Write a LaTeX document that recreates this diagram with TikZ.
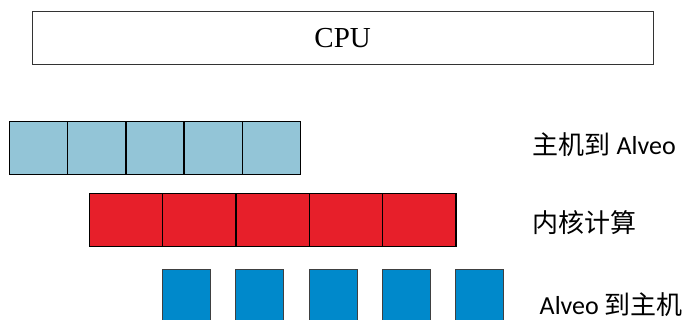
\documentclass[tikz,border=0pt]{standalone}
\usepackage{fontspec}
\setmainfont{Liberation Serif}
\newfontfamily\cjk{Noto Sans CJK SC}
\newfontfamily\lat{Carlito}
\usetikzlibrary{positioning}

\definecolor{hostblue}{RGB}{147,197,215}
\definecolor{kernred}{RGB}{231,31,42}
\definecolor{cardblue}{RGB}{0,137,203}

\tikzset{
  cell/.style={draw=black, line width=1.4pt},
  rowlabel/.style={anchor=west, inner sep=0pt, font=\fontsize{26}{30}\selectfont\cjk}
}

\begin{document}
\begin{tikzpicture}[x=1pt, y=-1pt]
    % 画布大小
    \useasboundingbox (0,0) rectangle (686,320);

    % CPU 框
    \node[draw=black!80, line width=1.1pt, minimum width=620.7pt, minimum height=52.6pt,
          inner sep=0pt, font=\fontsize{29}{32}\selectfont] (cpu) at (342.7,38) {CPU};

    % 主机到 Alveo
    \def\hw{58.26}
    \foreach \i in {0,...,4}
        \draw[cell, fill=hostblue] ({9.3+\i*\hw},121.7) rectangle ++(\hw,52.6);

    % 内核计算
    \def\kw{73.3}
    \foreach \i in {0,...,4}
        \draw[cell, fill=kernred] ({89.3+\i*\kw},193.3) rectangle ++(\kw,53);

    % Alveo 到主机
    \foreach \i in {0,...,4}
        \draw[draw=black!75, line width=1.1pt, fill=cardblue] ({162.6+\i*\kw},269.3) rectangle ++(48,60);

    % 标签
    \node[rowlabel] (h2a) at (532.5,145) {主机到 {\lat Alveo}};
    \node[rowlabel] (kern) at (532.5,223) {内核计算};
    \node[rowlabel] (a2h) at (539.5,304.5) {{\lat Alveo} 到主机};
\end{tikzpicture}
\end{document}
